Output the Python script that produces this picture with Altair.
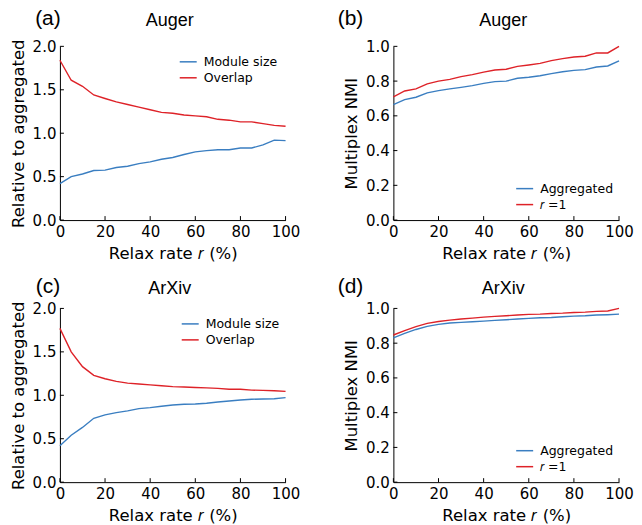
import altair as alt
import pandas as pd

# ---------------- data ----------------
relax = [0, 5, 10, 15, 20, 25, 30, 35, 40, 45, 50, 55, 60, 65, 70, 75, 80, 85, 90, 95, 100]

auger_module = [0.42, 0.50, 0.53, 0.57, 0.575, 0.605, 0.62, 0.65, 0.67, 0.70, 0.72,
                0.755, 0.785, 0.80, 0.81, 0.81, 0.83, 0.83, 0.865, 0.92, 0.915]
auger_overlap = [1.84, 1.61, 1.54, 1.44, 1.40, 1.36, 1.33, 1.30, 1.27, 1.24, 1.23,
                 1.21, 1.20, 1.19, 1.16, 1.15, 1.13, 1.13, 1.11, 1.09, 1.08]
auger_agg = [0.665, 0.693, 0.707, 0.732, 0.745, 0.755, 0.764, 0.774, 0.787, 0.797, 0.80,
             0.816, 0.822, 0.831, 0.843, 0.854, 0.862, 0.866, 0.881, 0.887, 0.916]
auger_r1 = [0.709, 0.743, 0.755, 0.784, 0.80, 0.81, 0.826, 0.837, 0.852, 0.864, 0.868,
            0.885, 0.893, 0.902, 0.918, 0.929, 0.939, 0.943, 0.962, 0.962, 1.0]

arxiv_module = [0.42, 0.54, 0.63, 0.735, 0.775, 0.80, 0.82, 0.847, 0.858, 0.874, 0.889,
                0.897, 0.90, 0.908, 0.923, 0.935, 0.946, 0.954, 0.958, 0.96, 0.973]
arxiv_overlap = [1.77, 1.50, 1.33, 1.23, 1.19, 1.16, 1.14, 1.13, 1.12, 1.11, 1.10,
                 1.095, 1.09, 1.085, 1.08, 1.07, 1.07, 1.06, 1.057, 1.053, 1.045]
arxiv_agg = [0.831, 0.856, 0.879, 0.897, 0.908, 0.916, 0.92, 0.923, 0.927, 0.931, 0.935,
             0.939, 0.943, 0.946, 0.948, 0.952, 0.956, 0.958, 0.962, 0.964, 0.967]
arxiv_r1 = [0.847, 0.872, 0.895, 0.914, 0.925, 0.933, 0.939, 0.944, 0.950, 0.954, 0.958,
            0.962, 0.966, 0.967, 0.971, 0.973, 0.977, 0.979, 0.983, 0.985, 1.0]

x_ticks = [0, 20, 40, 60, 80, 100]
y_ticks_rel = [0.0, 0.5, 1.0, 1.5, 2.0]
y_ticks_nmi = [0.0, 0.2, 0.4, 0.6, 0.8, 1.0]

names_rel = ["Module size", "Overlap"]
names_nmi = ["Aggregated", "\U0001D45F =1"]

BLUE = "#3a7ec1"
RED = "#de2228"
W, H = 226, 174
TICK = 4


def panel(label, title, names, s1, s2, ymax, yticks, ytitle,
          leg_x, leg_y, lab_x, lab_y, title_y):
    df = pd.DataFrame({
        "r": relax + relax,
        "v": s1 + s2,
        "s": [names[0]] * len(relax) + [names[1]] * len(relax),
    })
    xs = alt.Scale(domain=[0, 100], nice=False)
    ys = alt.Scale(domain=[0, ymax], nice=False)
    xax = alt.Axis(values=x_ticks, title="Relax rate \U0001D45F (%)", labelFlush=False)
    yax = alt.Axis(values=yticks, format=".1f", title=ytitle)
    lines = alt.Chart(df).mark_line(strokeWidth=1.4).encode(
        x=alt.X("r:Q", scale=xs, axis=xax),
        y=alt.Y("v:Q", scale=ys, axis=yax),
        color=alt.Color("s:N",
                        scale=alt.Scale(domain=names, range=[BLUE, RED]),
                        legend=alt.Legend(title=None, orient="none",
                                          legendX=leg_x, legendY=leg_y)),
    )
    xt = alt.Chart(pd.DataFrame({"r": x_ticks})).mark_rule(
        color="black", strokeWidth=1).encode(
        x=alt.X("r:Q", scale=xs, axis=xax), y=alt.value(H), y2=alt.value(H - TICK))
    yt = alt.Chart(pd.DataFrame({"v": yticks})).mark_rule(
        color="black", strokeWidth=1).encode(
        y=alt.Y("v:Q", scale=ys, axis=yax), x=alt.value(0), x2=alt.value(TICK))
    lab = alt.Chart(pd.DataFrame({"t": [label]})).mark_text(
        font="Liberation Sans", fontSize=21, baseline="middle", align="center",
        color="black").encode(text="t:N", x=alt.value(lab_x), y=alt.value(lab_y))
    ttl = alt.Chart(pd.DataFrame({"t": [title]})).mark_text(
        font="Liberation Sans", fontSize=18, baseline="alphabetic", align="center",
        color="black").encode(text="t:N", x=alt.value(W / 2 - 3), y=alt.value(title_y))
    return alt.layer(lines, xt, yt, lab, ttl).properties(width=W, height=H)


pa = panel("(a)", "Auger", names_rel, auger_module, auger_overlap, 2.0, y_ticks_rel,
           "Relative to aggregated", 119, 6, -12, -27, -20)
pb = panel("(b)", "Auger", names_nmi, auger_agg, auger_r1, 1.0, y_ticks_nmi,
           "Multiplex NMI", 122, 133, -43, -27, -20)
pc = panel("(c)", "ArXiv", names_rel, arxiv_module, arxiv_overlap, 2.0, y_ticks_rel,
           "Relative to aggregated", 121, 6, -12, -21, -14)
pd_ = panel("(d)", "ArXiv", names_nmi, arxiv_agg, arxiv_r1, 1.0, y_ticks_nmi,
            "Multiplex NMI", 122, 133, -43, -21, -14)

chart = alt.concat(pa, pb, pc, pd_, columns=2, spacing={"row": 14.5, "column": 37}).resolve_scale(
    color="independent", x="independent", y="independent"
).resolve_legend(color="independent").properties(
    padding={"left": 2, "top": 0, "right": 0, "bottom": 0}
).configure_view(stroke=None).configure_axis(
    grid=False, ticks=False, tickSize=0,
    domainColor="black", domainWidth=1,
    labelFont="DejaVu Sans", labelFontSize=15, labelColor="black", labelPadding=4,
    titleFont="DejaVu Sans", titleFontSize=16.5, titleFontWeight="normal",
    titleColor="black", titlePadding=6,
).configure_legend(
    labelFont="DejaVu Sans", labelFontSize=12.5, labelColor="black",
    symbolType="stroke", symbolSize=289, symbolStrokeWidth=1.5,
    rowPadding=0, labelOffset=6, padding=0,
)

chart.save("out.html", embed_options={"renderer": "svg", "actions": False})
